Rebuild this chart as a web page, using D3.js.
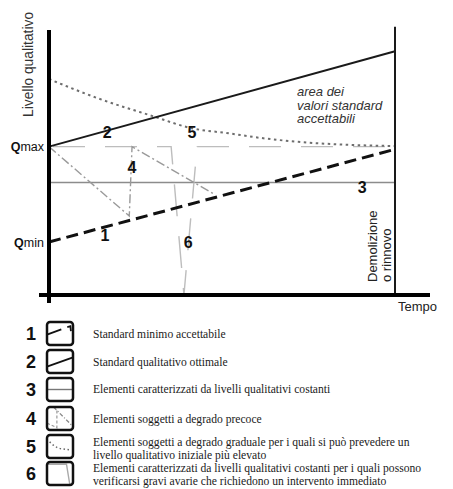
<!DOCTYPE html>
<html>
<head>
<meta charset="utf-8">
<script src="https://cdn.jsdelivr.net/npm/d3@7"></script>
<style>
  html, body { margin: 0; padding: 0; background: #fff; }
  svg { display: block; }
</style>
</head>
<body>
<svg id="chart" width="453" height="489"></svg>
<script>
// ---- data (time 0..100, quality level 0..100) ----
const Q_MAX = 56;
const Q_MIN = 20;
const line1 = [[0, 20], [100, 55]];                 // standard minimo accettabile
const line2 = [[0, 56], [100, 92]];                 // standard qualitativo ottimale
const line3 = [[0, 42.5], [100, 42.5]];             // livelli qualitativi costanti
const line4 = [[0, 56], [23.2, 29.8], [24, 56], [47.4, 38.3]];   // degrado precoce
const line5 = [[0, 81.5], [14, 74.3], [30, 67.5], [41, 63], [52, 61], [61, 59.3], [72, 57.8], [86, 56.7], [100, 56.2]]; // degrado graduale
const line6 = [[0, 56], [35.3, 56], [39, 0], [42.8, 56], [100, 56]];  // guasto improvviso
const lineLabels = [
  { t: "2", x: 16.8, y: 61.5 },
  { t: "5", x: 41.3, y: 61.5 },
  { t: "4", x: 24, y: 48.3 },
  { t: "1", x: 16.2, y: 22.6 },
  { t: "3", x: 90.5, y: 40.8 },
  { t: "6", x: 40.2, y: 20 }
];
const legendNums = ["1", "2", "3", "4", "5", "6"];
const legendTexts = [
  ["Standard minimo accettabile"],
  ["Standard qualitativo ottimale"],
  ["Elementi caratterizzati da livelli qualitativi costanti"],
  ["Elementi soggetti a degrado precoce"],
  ["Elementi soggetti a degrado graduale per i quali si può prevedere un", "livello qualitativo iniziale più elevato"],
  ["Elementi caratterizzati da livelli qualitativi costanti per i quali possono", "verificarsi gravi avarie che richiedono un intervento immediato"]
];
const areaText = ["area dei", "valori standard", "accettabili"];

// ---- drawing ----
const svg = d3.select("#chart");
const x = d3.scaleLinear().domain([0, 100]).range([49, 395]);
const y = d3.scaleLinear().domain([0, 100]).range([295, 30]);
const sans = "'Liberation Sans', Arial, Helvetica, sans-serif";
const serif = "'Liberation Serif', 'Times New Roman', serif";

const line = d3.line().x(d => x(d[0])).y(d => y(d[1]));
const curve = d3.line().x(d => x(d[0])).y(d => y(d[1])).curve(d3.curveMonotoneX);

// line 3 (constant)
svg.append("path").attr("d", line(line3)).attr("fill", "none")
  .attr("stroke", "#8c8c8c").attr("stroke-width", 1.5);
// line 6 (sudden failure)
svg.append("path").attr("d", line(line6)).attr("fill", "none")
  .attr("stroke", "#bdbdbd").attr("stroke-width", 1.4)
  .attr("stroke-dasharray", "32,20").attr("stroke-dashoffset", -4);
// line 4 (early decay)
svg.append("path").attr("d", line(line4)).attr("fill", "none")
  .attr("stroke", "#9a9a9a").attr("stroke-width", 1.4)
  .attr("stroke-dasharray", "9,3,2,3");
// line 5 (gradual decay)
svg.append("path").attr("d", curve(line5)).attr("fill", "none")
  .attr("stroke", "#6e6e6e").attr("stroke-width", 2)
  .attr("stroke-dasharray", "2.5,3.5");
// line 1 (minimum)
svg.append("path").attr("d", line(line1)).attr("fill", "none")
  .attr("stroke", "#111").attr("stroke-width", 3)
  .attr("stroke-dasharray", "12,6");
// line 2 (optimal)
svg.append("path").attr("d", line(line2)).attr("fill", "none")
  .attr("stroke", "#1a1a1a").attr("stroke-width", 2);

// right vertical (Demolizione o rinnovo)
svg.append("line").attr("x1", x(100)).attr("x2", x(100))
  .attr("y1", y(101.2)).attr("y2", y(0))
  .attr("stroke", "#1a1a1a").attr("stroke-width", 2);

// axes
svg.append("line").attr("x1", 39).attr("x2", 430).attr("y1", y(0)).attr("y2", y(0))
  .attr("stroke", "#000").attr("stroke-width", 4);
svg.append("line").attr("x1", x(0)).attr("x2", x(0)).attr("y1", y(100)).attr("y2", 303)
  .attr("stroke", "#000").attr("stroke-width", 4);

// axis texts
svg.append("text").attr("transform", `translate(33,117) rotate(-90)`)
  .attr("font-family", sans).attr("font-size", 13.8).attr("fill", "#333")
  .text("Livello qualitativo");
svg.append("text").attr("x", 398).attr("y", 311)
  .attr("font-family", sans).attr("font-size", 13).attr("fill", "#222")
  .text("Tempo");
[["Demolizione", 377], ["o rinnovo", 391]].forEach(([t, bx]) => {
  svg.append("text").attr("transform", `translate(${bx},282) rotate(-90)`)
    .attr("font-family", sans).attr("font-size", 13).attr("fill", "#222").text(t);
});

// Qmax / Qmin
[["max", Q_MAX], ["min", Q_MIN]].forEach(([s, v]) => {
  const t = svg.append("text").attr("x", 44).attr("y", y(v) + 4.5)
    .attr("text-anchor", "end").attr("font-family", sans).attr("font-size", 12.5).attr("fill", "#111");
  t.append("tspan").attr("font-weight", "bold").text("Q");
  t.append("tspan").text(s);
});

// area text
svg.append("g").selectAll("text").data(areaText).join("text")
  .attr("x", 297).attr("y", (d, i) => 96 + i * 13.5)
  .attr("font-family", sans).attr("font-style", "italic").attr("font-size", 13)
  .attr("fill", "#333").text(d => d);

// line labels
svg.append("g").selectAll("text").data(lineLabels).join("text")
  .attr("x", d => x(d.x)).attr("y", d => y(d.y) + 6)
  .attr("text-anchor", "middle").attr("font-family", sans).attr("font-weight", "bold")
  .attr("font-size", 16).attr("fill", "#111").text(d => d.t);

// ---- legend ----
const rowTop = [322, 350, 378, 407, 435, 462];
const textBase = [[338], [366], [393], [423], [446, 459], [472, 485]];
const boxW = 26, boxH = 23, boxX = 47;
const lg = svg.append("g");
legendNums.forEach((n, i) => {
  const top = rowTop[i];
  lg.append("text").attr("x", 26).attr("y", top + 18)
    .attr("font-family", sans).attr("font-weight", "bold").attr("font-size", 18)
    .attr("fill", "#111").text(n);
  // mini symbol
  const sx = d3.scaleLinear().domain([0, 1]).range([boxX, boxX + boxW]);
  const sy = d3.scaleLinear().domain([0, 1]).range([top + boxH, top]);
  const ml = d3.line().x(d => sx(d[0])).y(d => sy(d[1]));
  let g = lg.append("path").attr("fill", "none");
  if (i === 0) { g.attr("d", ml([[0, 0.45], [0.55, 0.68]])).attr("stroke", "#111").attr("stroke-width", 1.8);
    lg.append("path").attr("fill", "none").attr("stroke", "#111").attr("stroke-width", 1.8)
      .attr("d", ml([[0.78, 0.78], [0.9, 0.82], [0.92, 0.6]])); }
  if (i === 1) g.attr("d", ml([[0, 0.28], [1, 0.68]])).attr("stroke", "#111").attr("stroke-width", 1.8);
  if (i === 2) g.attr("d", ml([[0, 0.5], [1, 0.5]])).attr("stroke", "#777").attr("stroke-width", 1.4);
  if (i === 3) { g.attr("d", ml([[0.25, 1], [1, 0.15]])).attr("stroke", "#888").attr("stroke-width", 1.3).attr("stroke-dasharray", "4,2,1,2");
    lg.append("path").attr("fill", "none").attr("stroke", "#999").attr("stroke-width", 1.2).attr("stroke-dasharray", "3,2")
      .attr("d", ml([[0.38, 0.85], [0.38, 0.1], [0, 0.3]])); }
  if (i === 4) g.attr("d", d3.line().x(d => sx(d[0])).y(d => sy(d[1])).curve(d3.curveMonotoneX)([[0.1, 0.7], [0.4, 0.45], [0.7, 0.38], [0.9, 0.35]]))
    .attr("stroke", "#666").attr("stroke-width", 1.5).attr("stroke-dasharray", "1.5,2.5");
  if (i === 5) g.attr("d", ml([[0, 0.9], [0.75, 0.9], [0.88, 0.0]])).attr("stroke", "#aaa").attr("stroke-width", 1.4);
  lg.append("rect").attr("x", boxX).attr("y", top).attr("width", boxW).attr("height", boxH)
    .attr("rx", 3).attr("fill", "none").attr("stroke", "#111").attr("stroke-width", 2.5);
  // description (each line its own text element)
  legendTexts[i].forEach((l, j) => {
    lg.append("text").attr("x", 93).attr("y", textBase[i][j])
      .attr("font-family", serif).attr("font-size", 11.6).attr("fill", "#1a1a1a").text(l);
  });
});
</script>
</body>
</html>
